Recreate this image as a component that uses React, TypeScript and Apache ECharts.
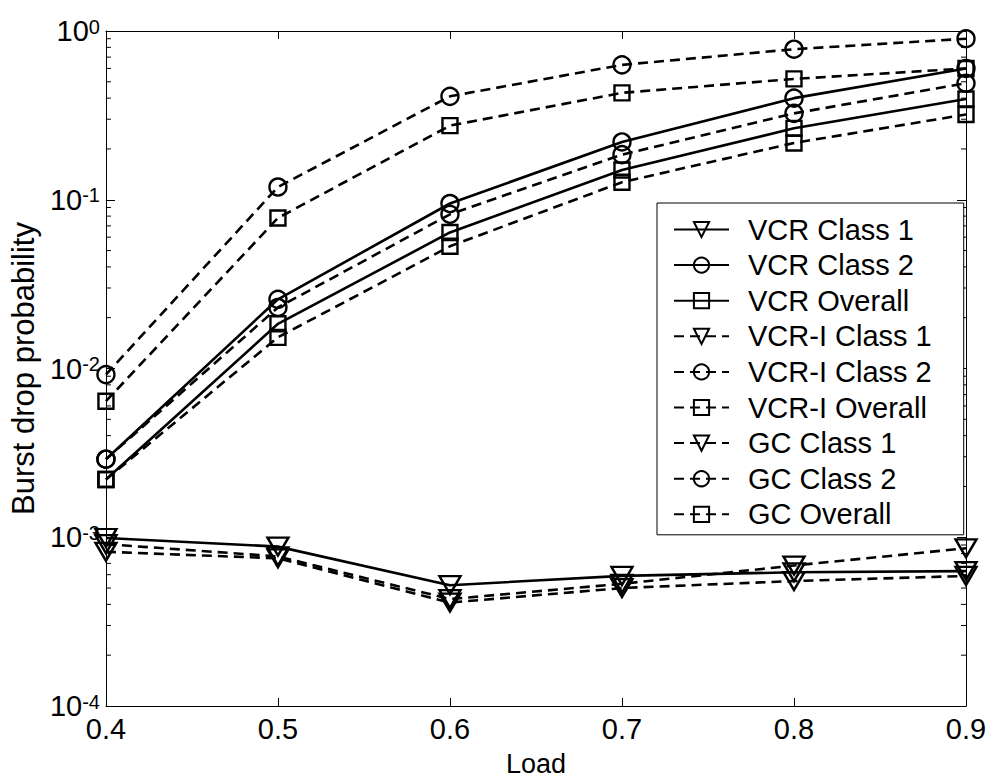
import React, { useEffect, useRef } from "react";
import * as echarts from "echarts";

const loads = [0.4, 0.5, 0.6, 0.7, 0.8, 0.9];

const vcrClass1 = [0.00099, 0.00088, 0.00052, 0.00059, 0.00062, 0.00063];
const vcrClass2 = [0.0029, 0.0257, 0.095, 0.22, 0.4, 0.6];
const vcrOverall = [0.0022, 0.0184, 0.064, 0.15, 0.265, 0.395];
const vcriClass1 = [0.00082, 0.00075, 0.00041, 0.0005, 0.00055, 0.00059];
const vcriClass2 = [0.0029, 0.023, 0.082, 0.185, 0.325, 0.49];
const vcriOverall = [0.0022, 0.0153, 0.053, 0.127, 0.217, 0.32];
const gcClass1 = [0.00091, 0.00077, 0.00043, 0.00053, 0.00068, 0.00086];
const gcClass2 = [0.0092, 0.119, 0.41, 0.63, 0.78, 0.9];
const gcOverall = [0.0064, 0.078, 0.275, 0.43, 0.52, 0.6];

const threshold = 0.001;

const minorMultipliers = [2, 3, 4, 5, 6, 7, 8, 9];
const decades = [-4, -3, -2, -1];

const FONT = "'Liberation Sans', Arial, Helvetica, sans-serif";

type Marker = "tri" | "circ" | "sq";

function makeSeries(name: string, values: number[], dashed: boolean, marker: Marker) {
  const symbol = marker === "tri" ? "triangle" : marker === "circ" ? "circle" : "rect";
  const size = marker === "tri" ? [21, 18] : marker === "circ" ? 17 : 15;
  return {
    type: "line",
    name,
    data: loads.map((x, i) => [x, values[i]]),
    symbol,
    symbolSize: size,
    symbolRotate: marker === "tri" ? 180 : 0,
    showAllSymbol: true,
    lineStyle: { color: "#000", width: 2.6, type: dashed ? [10, 6] : "solid" },
    itemStyle: { color: "rgba(0,0,0,0)", borderColor: "#000", borderWidth: 2.4 },
    emphasis: { disabled: true },
    z: 3,
  };
}

export default function App() {
  const ref = useRef<HTMLDivElement>(null);

  useEffect(() => {
    document.body.style.margin = "0";
    if (!ref.current) return;
    const chart = echarts.init(ref.current, undefined, { renderer: "svg" });

    const minorTicks: number[][] = [];
    decades.forEach((d) => {
      minorMultipliers.forEach((m) => {
        minorTicks.push([loads[0], m * Math.pow(10, d)]);
      });
    });

    const seriesList: any[] = [
      makeSeries("VCR Class 1", vcrClass1, false, "tri"),
      makeSeries("VCR Class 2", vcrClass2, false, "circ"),
      makeSeries("VCR Overall", vcrOverall, false, "sq"),
      makeSeries("VCR-I Class 1", vcriClass1, true, "tri"),
      makeSeries("VCR-I Class 2", vcriClass2, true, "circ"),
      makeSeries("VCR-I Overall", vcriOverall, true, "sq"),
      makeSeries("GC Class 1", gcClass1, true, "tri"),
      makeSeries("GC Class 2", gcClass2, true, "circ"),
      makeSeries("GC Overall", gcOverall, true, "sq"),
    ];

    seriesList[0].markLine = {
      silent: true,
      symbol: "none",
      label: { show: false },
      lineStyle: { color: "#000", width: 2, type: [2, 3] },
      data: [{ yAxis: threshold }],
    };

    seriesList.push({
      type: "custom",
      name: "minorTicks",
      silent: true,
      clip: false,
      data: minorTicks,
      encode: { x: 0, y: 1 },
      renderItem: (params: any, api: any) => {
        const v = api.value(1);
        const pL = api.coord([loads[0], v]);
        const pR = api.coord([loads[loads.length - 1], v]);
        return {
          type: "group",
          children: [
            { type: "line", shape: { x1: pL[0], y1: pL[1], x2: pL[0] + 5, y2: pL[1] }, style: { stroke: "#000", lineWidth: 1 } },
            { type: "line", shape: { x1: pR[0] - 5, y1: pR[1], x2: pR[0], y2: pR[1] }, style: { stroke: "#000", lineWidth: 1 } },
          ],
        };
      },
      z: 2,
    });

    const xCommon = {
      type: "value",
      min: 0.4,
      max: 0.9,
      interval: 0.1,
      splitLine: { show: false },
      axisLine: { show: true, onZero: false, lineStyle: { color: "#000", width: 1 } },
      axisTick: { show: true, inside: true, length: 8, lineStyle: { color: "#000", width: 1 } },
    };

    const yCommon = {
      type: "log",
      logBase: 10,
      min: 1e-4,
      max: 1,
      splitLine: { show: false },
      axisLine: { show: true, onZero: false, lineStyle: { color: "#000", width: 1 } },
      axisTick: { show: true, inside: true, length: 9, lineStyle: { color: "#000", width: 1 } },
    };

    const option: any = {
      animation: false,
      backgroundColor: "#fff",
      textStyle: { fontFamily: FONT, color: "#000" },
      grid: { left: 103, right: 27, top: 31, bottom: 70, containLabel: false },
      xAxis: [
        {
          ...xCommon,
          position: "bottom",
          name: "Load",
          nameLocation: "middle",
          nameGap: 44,
          nameTextStyle: { fontSize: 27, fontFamily: FONT, color: "#000" },
          axisLabel: {
            margin: 8,
            fontSize: 29,
            fontFamily: FONT,
            color: "#000",
            formatter: (v: number) => v.toFixed(1),
          },
        },
        { ...xCommon, position: "top", axisLabel: { show: false } },
      ],
      yAxis: [
        {
          ...yCommon,
          position: "left",
          name: "Burst drop probability",
          nameLocation: "middle",
          nameGap: 64,
          nameTextStyle: { fontSize: 31, fontFamily: FONT, color: "#000" },
          axisLabel: {
            margin: 6,
            color: "#000",
            formatter: (v: number) => {
              const e = Math.round(Math.log10(v));
              return `{b|10}{s|${e}}`;
            },
            rich: {
              b: { fontSize: 29, fontFamily: FONT, color: "#000", lineHeight: 29, padding: [10, 0, 0, 0], verticalAlign: "bottom" },
              s: { fontSize: 20, fontFamily: FONT, color: "#000", lineHeight: 20, verticalAlign: "top" },
            },
          },
        },
        { ...yCommon, position: "right", axisLabel: { show: false } },
      ],
      legend: {
        show: true,
        data: [
          "VCR Class 1",
          "VCR Class 2",
          "VCR Overall",
          "VCR-I Class 1",
          "VCR-I Class 2",
          "VCR-I Overall",
          "GC Class 1",
          "GC Class 2",
          "GC Overall",
        ],
        orient: "vertical",
        left: 657,
        top: 203,
        itemWidth: 55,
        itemHeight: 19,
        itemGap: 6.6,
        padding: [12, 32, 6, 16],
        backgroundColor: "#fff",
        borderColor: "#000",
        borderWidth: 1,
        borderRadius: 0,
        selectedMode: false,
        inactiveColor: "#000",
        textStyle: { fontSize: 29, lineHeight: 28, fontFamily: FONT, color: "#000", padding: [0, 0, 0, 14] },
        z: 10,
      },
      series: seriesList,
    };

    chart.setOption(option);
    return () => chart.dispose();
  }, []);

  return <div ref={ref} style={{ width: 993, height: 782 }} />;
}
